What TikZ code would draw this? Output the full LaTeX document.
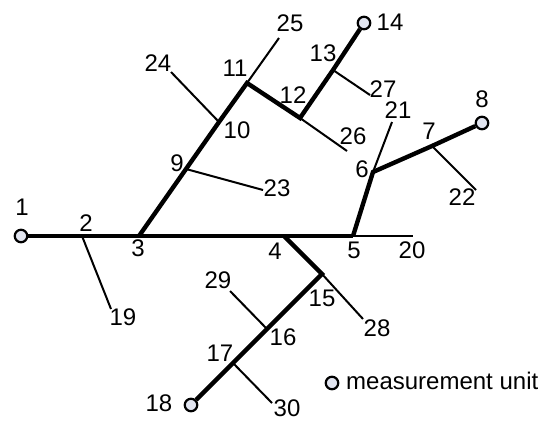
\documentclass[tikz,border=0pt]{standalone}
\usepackage{fontspec}
\setmainfont{Liberation Sans}
\definecolor{unitfill}{RGB}{226,229,240}
\tikzset{
  pipe/.style={line width=4.4bp},
  branch/.style={line width=2bp},
  unit/.style={circle,draw,line width=2.2bp,fill=unitfill,minimum size=12.5bp,inner sep=0pt},
  num/.style={font=\fontsize{24bp}{26bp}\selectfont,inner sep=0pt},
}
\begin{document}
\begin{tikzpicture}[x=1bp,y=-1bp]
    \useasboundingbox (0,0) rectangle (552,420);
    % junctions
    \coordinate (n2) at (82,236);
    \coordinate (n3) at (139,236);
    \coordinate (n4) at (284,236);
    \coordinate (n5) at (353,236);
    \coordinate (n6) at (373,172);
    \coordinate (n7) at (432,146);
    \coordinate (n9) at (186,169);
    \coordinate (n10) at (219,122);
    \coordinate (n11) at (247,83);
    \coordinate (n12) at (300,118);
    \coordinate (n13) at (333,70);
    \coordinate (n15) at (322,274);
    \coordinate (n16) at (267,329);
    \coordinate (n17) at (233,363);
    % free ends
    \coordinate (e19) at (111,309);
    \coordinate (e20) at (413,236);
    \coordinate (e21) at (392,122);
    \coordinate (e22) at (476,190);
    \coordinate (e23) at (263,190);
    \coordinate (e24) at (171,72);
    \coordinate (e25) at (279,38);
    \coordinate (e26) at (347,151);
    \coordinate (e27) at (370,95);
    \coordinate (e28) at (363,319);
    \coordinate (e29) at (230,291);
    \coordinate (e30) at (272,403);
    % thin branches
    \foreach \a/\b in {n2/e19,n5/e20,n6/e21,n7/e22,n9/e23,n10/e24,n11/e25,
                       n12/e26,n13/e27,n15/e28,n16/e29,n17/e30}
        \draw[branch] (\a) -- (\b);
    % measurement units
    \node[unit] (u1) at (21,236) {};
    \node[unit] (u8) at (482,123) {};
    \node[unit] (u14) at (364,23) {};
    \node[unit] (u18) at (191,405) {};
    % main lines
    \draw[pipe] (u1) -- (n2) -- (n3) -- (n4) -- (n5);
    \draw[pipe] (n3) -- (n9) -- (n10) -- (n11) -- (n12) -- (n13) -- (u14);
    \draw[pipe] (n5) -- (n6) -- (n7) -- (u8);
    \draw[pipe] (n4) -- (n15) -- (n16) -- (n17) -- (u18);
    % numbers
    \node[num] (t1) at (22,207) {1};
    \node[num] (t2) at (86,223) {2};
    \node[num] (t3) at (138,248) {3};
    \node[num] (t4) at (275,251) {4};
    \node[num] (t5) at (354,250) {5};
    \node[num] (t6) at (362,169) {6};
    \node[num] (t7) at (429,131) {7};
    \node[num] (t8) at (482,99) {8};
    \node[num] (t9) at (177,163) {9};
    \node[num] (t10) at (237,130) {10};
    \node[num] (t11) at (235,68) {11};
    \node[num] (t12) at (293,95) {12};
    \node[num] (t13) at (323,53) {13};
    \node[num] (t14) at (390,22) {14};
    \node[num] (t15) at (322,298) {15};
    \node[num] (t16) at (283,337) {16};
    \node[num] (t17) at (220,353) {17};
    \node[num] (t18) at (159,403) {18};
    \node[num] (t19) at (123,317) {19};
    \node[num] (t20) at (412,250) {20};
    \node[num] (t21) at (398,110) {21};
    \node[num] (t22) at (462,197) {22};
    \node[num] (t23) at (277,188) {23};
    \node[num] (t24) at (158,63) {24};
    \node[num] (t25) at (290,23) {25};
    \node[num] (t26) at (353,136) {26};
    \node[num] (t27) at (383,89) {27};
    \node[num] (t28) at (377,328) {28};
    \node[num] (t29) at (218,280) {29};
    \node[num] (t30) at (287,408) {30};
    % legend
    \node[unit] (key) at (332,383) {};
    \node[num,anchor=west] (keytext) at (346,381) {measurement unit};
\end{tikzpicture}
\end{document}
